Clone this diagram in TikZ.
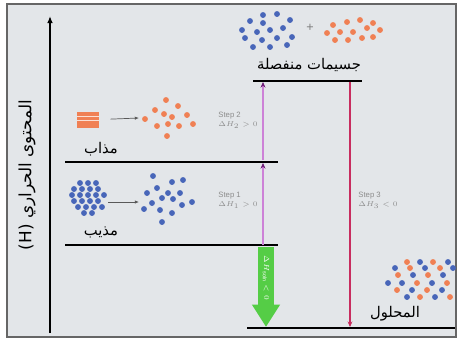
\documentclass[tikz,border=0pt]{standalone}
\usepackage{amsmath}
\usepackage{fontspec}
\setsansfont{Liberation Sans}
\newfontfamily\arabicfont[Script=Arabic]{DejaVu Sans}
\TeXXeTstate=1
\usetikzlibrary{arrows.meta,calc,positioning}

\definecolor{panel}{RGB}{227,230,233}
\definecolor{ptblue}{RGB}{72,102,185}
\definecolor{ptorange}{RGB}{240,128,84}
\definecolor{steppink}{RGB}{205,130,215}
\definecolor{steptip}{RGB}{110,30,120}
\definecolor{stepred}{RGB}{200,45,95}
\definecolor{solngreen}{RGB}{85,205,70}

\tikzset{
    level/.style={line width=2pt},
    steplbl/.style={font=\sffamily\fontsize{5.5}{6.5}\selectfont, text=black!45, align=left},
    arlbl/.style={font=\arabicfont\fontsize{10.5}{12}\selectfont},
    mixarrow/.style={-{Latex[length=3pt,width=2.4pt]}, gray!70!black, line width=0.5pt},
}

\begin{document}
\begin{tikzpicture}[x=0.25mm,y=-0.25mm]
    \useasboundingbox (0,0) rectangle (459,343);
    \fill[panel] (7,4) rectangle (456,337);
    \draw[black!60, line width=1.2pt] (7,4) rectangle (456,337);

    % enthalpy axis
    \coordinate (axisbot) at (50,333);
    \coordinate (axistop) at (50,16);
    \draw[-{Latex[length=5pt,width=4pt]}, line width=1pt] (axisbot) -- (axistop);
    \node[rotate=90, arlbl, font=\arabicfont\fontsize{12}{14}\selectfont] (axislbl) at (27,175)
        {\arabicfont\beginR المحتوى الحراري \beginL(H)\endL\endR};

    % energy levels
    \coordinate (sepL) at (253,81);     \coordinate (sepR) at (362,81);
    \coordinate (soluteL) at (65,162);  \coordinate (soluteR) at (278,162);
    \coordinate (solventL) at (65,245); \coordinate (solventR) at (278,245);
    \coordinate (solnL) at (247,328);   \coordinate (solnR) at (455,328);
    \draw[level] (sepL) -- (sepR);
    \draw[level] (soluteL) -- (soluteR);
    \draw[level] (solventL) -- (solventR);
    \draw[level] (solnL) -- (solnR);

    \node[arlbl] (seplbl) at (309,65) {\arabicfont\beginR جسيمات منفصلة\endR};
    \node[arlbl] (solutelbl) at (101,149) {\arabicfont\beginR مذاب\endR};
    \node[arlbl] (solventlbl) at (101,232) {\arabicfont\beginR مذيب\endR};
    \node[arlbl] (solnlbl) at (395,314) {\arabicfont\beginR المحلول\endR};

    % solute: crystal -> ions
    \node[fill=ptorange, minimum width=5.5mm, minimum height=3.8mm, inner sep=0pt] (crystal) at (88,120) {};
    \draw[white!75!ptorange, line width=0.4pt] (crystal.west) -- (crystal.east);
    \draw[white!75!ptorange, line width=0.4pt] ($(crystal.north west)!0.5!(crystal.west)$) -- ($(crystal.north east)!0.5!(crystal.east)$);
    \coordinate (soluteions) at (139,118);
    \draw[mixarrow, shorten <=2.8mm] (crystal) -- (soluteions);
    \foreach \x/\y in {166/100,178/106,155/110,164/114,172/117,187/115,145/119,
                       157/126,168/124,179/126,193/124,167/136}
        \fill[ptorange] (\x,\y) circle (2.1pt);

    % solvent: packed -> spread
    \foreach \x/\y in {80/183,88/183,96/183,74/189,82/189,90/189,98/189,
                       72/195,80/195,88/195,96/195,104/195,74/201,82/201,90/201,98/201,
                       78/207,86/207,94/207,102/207,84/213,92/213}
        \fill[ptblue] (\x,\y) circle (2.1pt);
    \coordinate (solventpack) at (108,202);
    \coordinate (solventspread) at (139,202);
    \draw[mixarrow] (solventpack) -- (solventspread);
    \foreach \x/\y in {153/176,172/182,183/180,157/188,147/193,168/193,180/193,
                       162/198,152/203,173/199,192/202,144/209,160/210,182/205,
                       172/213,162/222}
        \fill[ptblue] (\x,\y) circle (2.1pt);

    % separated particles
    \foreach \x/\y in {263/15,277/14,250/21,263/23,290/20,242/30,257/32,270/30,
                       283/28,245/38,262/40,277/38,292/37,253/47,270/47,287/45}
        \fill[ptblue] (\x,\y) circle (2.1pt);
    \node[text=black!50, font=\sffamily\small] (plus) at (310,28) {+};
    \foreach \x/\y in {333/25,347/22,360/20,373/23,327/33,340/32,353/32,367/28,
                       380/30,335/40,348/40,362/38,373/37}
        \fill[ptorange] (\x,\y) circle (2.1pt);

    % solution
    \foreach \x/\y/\c in {407/262/ptorange,420/262/ptblue,433/262/ptorange,448/262/ptblue,
                          395/268/ptblue,410/268/ptorange,425/268/ptblue,440/268/ptorange,453/268/ptblue,
                          398/275/ptorange,413/275/ptblue,428/275/ptorange,443/275/ptblue,
                          388/283/ptblue,402/283/ptblue,417/283/ptorange,432/283/ptblue,447/283/ptorange,
                          397/290/ptorange,412/290/ptblue,427/290/ptorange,442/290/ptblue,
                          407/297/ptblue,420/297/ptorange,435/297/ptblue,450/297/ptorange}
        \fill[\c] (\x,\y) circle (2.1pt);

    % steps
    \coordinate (step1a) at (263,245); \coordinate (step1b) at (263,163);
    \coordinate (step2a) at (263,160); \coordinate (step2b) at (263,82);
    \coordinate (step3a) at (350,82);  \coordinate (step3b) at (350,327);
    \draw[steppink, line width=0.8pt, -{Stealth[length=4pt,width=3.5pt,color=steptip]}] (step1a) -- (step1b);
    \draw[steppink, line width=0.8pt, -{Stealth[length=4pt,width=3.5pt,color=steptip]}] (step2a) -- (step2b);
    \draw[stepred, line width=0.8pt, -{Stealth[length=4pt,width=3.5pt]}] (step3a) -- (step3b);
    \node[steplbl] (step2lbl) at (238,120) {Step 2\\$\Delta H_2 > 0$};
    \node[steplbl] (step1lbl) at (238,200) {Step 1\\$\Delta H_1 > 0$};
    \node[steplbl] (step3lbl) at (378,200) {Step 3\\$\Delta H_3 < 0$};

    % overall
    \coordinate (solna) at (266,247);
    \coordinate (solnb) at (266,327);
    \draw[solngreen, line width=12pt, -{Triangle[length=16pt,width=19pt]}] (solna) -- (solnb);
    \node[rotate=-90, text=white, font=\sffamily\fontsize{5.5}{6}\selectfont] (solnlbl2) at (266,278)
        {$\Delta H_{\text{soln}} < 0$};
\end{tikzpicture}
\end{document}
